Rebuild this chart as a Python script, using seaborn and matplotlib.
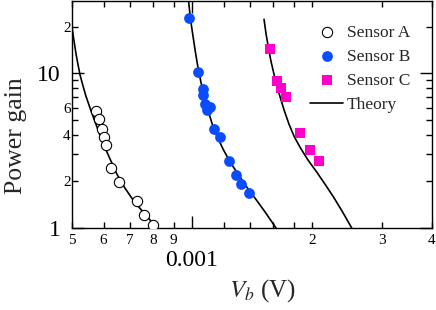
import matplotlib
matplotlib.use("Agg")
import matplotlib.pyplot as plt
import matplotlib.ticker as mticker
import seaborn as sns
import pandas as pd

# ---------------- data ----------------
sensor_a_vb = [0.000573, 0.000584, 0.000594, 0.000601, 0.000608, 0.000627,
               0.000657, 0.000727, 0.000758, 0.000800]
sensor_a_gain = [5.69, 5.03, 4.35, 3.88, 3.43, 2.46, 1.97, 1.50, 1.21, 1.045]

sensor_b_vb = [0.000983, 0.001035, 0.001066, 0.001066, 0.001079, 0.001110,
               0.001091, 0.001136, 0.001175, 0.001239, 0.001290, 0.001327,
               0.001390]
sensor_b_gain = [22.6, 10.15, 7.88, 7.21, 6.31, 6.04, 5.77, 4.35, 3.87,
                 2.71, 2.20, 1.92, 1.68]

sensor_c_vb = [0.001570, 0.001632, 0.001673, 0.001721, 0.001863, 0.001974,
               0.002080]
sensor_c_gain = [14.3, 8.97, 7.97, 7.03, 4.10, 3.17, 2.72]

theory_a_vb = [0.000500, 0.000506, 0.000512, 0.000518, 0.000524, 0.000533,
               0.000542, 0.000555, 0.000568, 0.000584, 0.000601, 0.000623,
               0.000648, 0.000679, 0.000715, 0.000762, 0.000817]
theory_a_gain = [19.81, 16.09, 13.26, 11.26, 9.71, 8.25, 7.11, 5.95, 5.05,
                 4.16, 3.43, 2.79, 2.23, 1.81, 1.49, 1.23, 1.00]

theory_b_vb = [0.000977, 0.000986, 0.000994, 0.001006, 0.001020, 0.001035,
               0.001053, 0.001075, 0.001097, 0.001122, 0.001155, 0.001197,
               0.001246, 0.001305, 0.001366, 0.001439, 0.001525, 0.001625]
theory_b_gain = [31.9, 25.50, 21.33, 17.33, 13.66, 10.93, 8.75, 7.00, 5.77,
                 4.76, 3.92, 3.23, 2.67, 2.23, 1.87, 1.56, 1.27, 1.00]

theory_c_vb = [0.001516, 0.001533, 0.001556, 0.001578, 0.001606, 0.001634,
               0.001667, 0.001706, 0.001751, 0.001803, 0.001866, 0.001954,
               0.002055, 0.002156, 0.002265, 0.002386, 0.002516]
theory_c_gain = [22.30, 18.12, 14.50, 11.95, 9.85, 8.25, 6.90, 5.69, 4.69,
                 3.92, 3.33, 2.75, 2.30, 1.92, 1.585, 1.27, 1.00]

series_labels = ["Sensor A", "Sensor B", "Sensor C", "Theory"]

x_major_ticks = [0.001]
x_major_labels = ["0.001"]
x_minor_ticks = [0.0005, 0.0006, 0.0007, 0.0008, 0.0009, 0.0012, 0.0014,
                 0.0016, 0.0018, 0.002, 0.003, 0.004]
x_minor_labels = ["5", "6", "7", "8", "9", "", "", "", "", "2", "3", "4"]
y_major_ticks = [1, 10]
y_major_labels = ["1", "10"]
y_minor_ticks = [2, 3, 4, 5, 6, 7, 8, 9, 20]
y_minor_labels = ["2", "", "4", "", "6", "", "", "", "2"]

# ---------------- style ----------------
sns.set_style("ticks")
plt.rcParams["font.family"] = ["Liberation Serif", "DejaVu Serif"]
plt.rcParams["mathtext.fontset"] = "stix"
plt.rcParams["axes.linewidth"] = 1.0

fig = plt.figure(figsize=(4.36, 3.10), dpi=100)
ax = fig.add_axes([72 / 436, 1 - 228 / 310, 360 / 436, 227 / 310])
ax.set_xscale("log")
ax.set_yscale("log")

blue = "#0a4cff"
magenta = "#ff00cc"

# theory curves
for i, (xv, yv) in enumerate([(theory_a_vb, theory_a_gain),
                              (theory_b_vb, theory_b_gain),
                              (theory_c_vb, theory_c_gain)]):
    df = pd.DataFrame({"vb": xv, "gain": yv})
    sns.lineplot(data=df, x="vb", y="gain", ax=ax, color="black", lw=1.2,
                 sort=False, estimator=None,
                 label=series_labels[3] if i == 0 else None, zorder=2)

dfa = pd.DataFrame({"vb": sensor_a_vb, "gain": sensor_a_gain})
dfb = pd.DataFrame({"vb": sensor_b_vb, "gain": sensor_b_gain})
dfc = pd.DataFrame({"vb": sensor_c_vb, "gain": sensor_c_gain})
sns.scatterplot(data=dfa, x="vb", y="gain", ax=ax, marker="o", s=55,
                facecolor="white", edgecolor="black", linewidth=0.8,
                label=series_labels[0], zorder=3)
sns.scatterplot(data=dfb, x="vb", y="gain", ax=ax, marker="o", s=60,
                color=blue, edgecolor=blue, linewidth=0,
                label=series_labels[1], zorder=3)
sns.scatterplot(data=dfc, x="vb", y="gain", ax=ax, marker="s", s=52,
                color=magenta, edgecolor=magenta, linewidth=0,
                label=series_labels[2], zorder=3)

ax.set_xlim(0.0005, 0.004)
ax.set_ylim(1, 29.3)

ax.xaxis.set_major_locator(mticker.FixedLocator(x_major_ticks))
ax.xaxis.set_major_formatter(mticker.FixedFormatter(x_major_labels))
ax.xaxis.set_minor_locator(mticker.FixedLocator(x_minor_ticks))
ax.xaxis.set_minor_formatter(mticker.FixedFormatter(x_minor_labels))
ax.yaxis.set_major_locator(mticker.FixedLocator(y_major_ticks))
ax.yaxis.set_major_formatter(mticker.FixedFormatter(y_major_labels))
ax.yaxis.set_minor_locator(mticker.FixedLocator(y_minor_ticks))
ax.yaxis.set_minor_formatter(mticker.FixedFormatter(y_minor_labels))

ax.tick_params(which="both", direction="in", top=True, right=True,
               width=1.0, color="black", labelcolor="black")
ax.tick_params(which="major", length=8.5, labelsize=17)
ax.tick_params(which="minor", length=4.5, labelsize=11)
ax.xaxis.set_tick_params(which="major", pad=16)
ax.xaxis.set_tick_params(which="minor", pad=4)
ax.yaxis.set_tick_params(which="major", pad=8)
ax.yaxis.set_tick_params(which="minor", pad=1)
for s in ax.spines.values():
    s.set_color("black")
    s.set_linewidth(1.0)

ax.set_xlabel("$V_b$ (V)", fontsize=18)
ax.xaxis.set_label_coords(0.528, -0.215)
ax.set_ylabel("Power gain", fontsize=18.5)
ax.yaxis.set_label_coords(-0.125, 0.405)

handles, labels = ax.get_legend_handles_labels()
order = [labels.index(l) for l in series_labels]
ax.legend([handles[i] for i in order], [labels[i] for i in order],
          loc="upper left", bbox_to_anchor=(0.662, 0.895), frameon=False,
          fontsize=12.5, handlelength=1.9, handletextpad=0.2,
          labelspacing=0.45, borderpad=0, borderaxespad=0, scatterpoints=1)

fig.savefig("out.png", dpi=100)
